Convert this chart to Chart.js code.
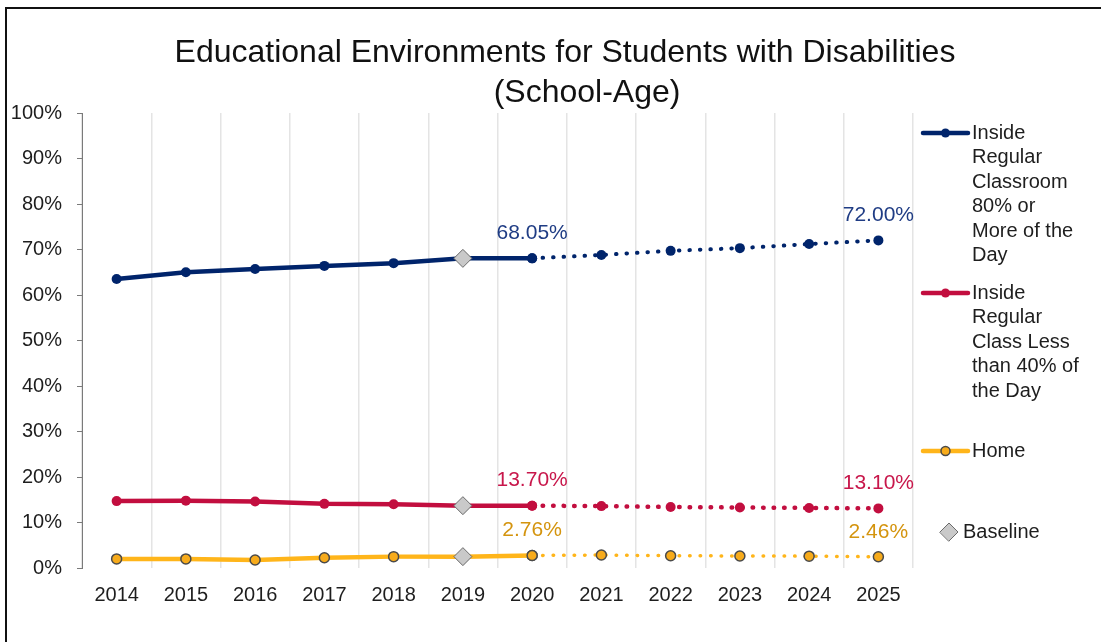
<!DOCTYPE html>
<html>
<head>
<meta charset="utf-8">
<title>Educational Environments for Students with Disabilities</title>
<script src="https://cdn.jsdelivr.net/npm/chart.js@4.4.1/dist/chart.umd.min.js"></script>
<style>
  html, body { margin: 0; padding: 0; background: #fff; }
  #wrap { position: relative; width: 1101px; height: 642px; }
</style>
</head>
<body>
<div id="wrap"><canvas id="chart"></canvas></div>
<script>
/* DATA */
const years = ['2014','2015','2016','2017','2018','2019','2020','2021','2022','2023','2024','2025'];
const baselineYear = '2019';

// actual 2014-2020, targets 2020-2025 (percent)
const regular80 = [63.5, 65.0, 65.7, 66.4, 67.0, 68.05, 68.05];
const regular80Targets = [68.05, 68.8, 69.7, 70.3, 71.2, 72.0];
const lessThan40 = [14.7, 14.8, 14.6, 14.1, 14.0, 13.7, 13.7];
const lessThan40Targets = [13.7, 13.6, 13.4, 13.3, 13.2, 13.1];
const home = [2.0, 2.0, 1.75, 2.25, 2.5, 2.5, 2.76];
const homeTargets = [2.76, 2.85, 2.7, 2.65, 2.6, 2.46];

const titleLines = ['Educational Environments for Students with Disabilities', '(School-Age)'];
const yMax = 100, yStep = 10;

const FONT = '"Liberation Sans", Arial, sans-serif';
const TEXT = '#1e1e1e';
Chart.defaults.font.family = FONT;

const pad = (arr, start) =>
  years.map((_, i) => (i >= start && i < start + arr.length) ? arr[i - start] : null);
const targetStart = years.indexOf('2020');
const baseIdx = years.indexOf(baselineYear);

const series = [
  { name: 'Inside Regular Classroom 80% or More of the Day', actual: regular80, targets: regular80Targets,
    color: '#00246b', labelColor: '#1f3c84', ptFill: '#00246b', ptBorder: '#00246b', ptBorderW: 0,
    radius: 5, dotW: 4, legendY: 133 },
  { name: 'Inside Regular Class Less than 40% of the Day', actual: lessThan40, targets: lessThan40Targets,
    color: '#c20e3f', labelColor: '#c8174b', ptFill: '#c20e3f', ptBorder: '#c20e3f', ptBorderW: 0,
    radius: 5, dotW: 4.5, legendY: 293 },
  { name: 'Home', actual: home, targets: homeTargets,
    color: '#ffb51a', labelColor: '#d4940e', ptFill: '#f7ab1b', ptBorder: '#4a4a4a', ptBorderW: 1.5,
    radius: 5, dotW: 3.5, legendY: 451 }
];

const datasets = [];
series.forEach(s => {
  const pt = {
    pointRadius: s.radius, pointBackgroundColor: s.ptFill,
    pointBorderColor: s.ptBorder, pointBorderWidth: s.ptBorderW
  };
  datasets.push(Object.assign({
    label: s.name, data: pad(s.actual, 0), borderColor: s.color,
    borderWidth: 4.5, tension: 0, order: 1
  }, pt));
  datasets.push(Object.assign({
    label: s.name + ' (target)', data: pad(s.targets, targetStart), borderColor: s.color,
    borderWidth: s.dotW, borderDash: [0.5, 10], borderCapStyle: 'round', tension: 0, order: 1,
    endLabelColor: s.labelColor
  }, pt));
});
datasets.push({
  label: 'Baseline',
  data: series.map(s => ({ x: baselineYear, y: s.actual[baseIdx] })),
  showLine: false, pointStyle: 'rectRot', pointRadius: 9,
  pointBackgroundColor: '#c9c9c9', pointBorderColor: '#6b6b6b', pointBorderWidth: 1, order: 0
});

/* PLUGINS */
const frame = {
  id: 'frame',
  beforeDraw(chart) {
    const ctx = chart.ctx;
    ctx.save();
    ctx.fillStyle = '#fff';
    ctx.fillRect(0, 0, chart.width, chart.height);
    ctx.restore();
  },
  afterDraw(chart) {
    const ctx = chart.ctx;
    ctx.save();
    ctx.strokeStyle = '#111';
    ctx.lineWidth = 2;
    ctx.beginPath();
    ctx.moveTo(6, chart.height);
    ctx.lineTo(6, 8);
    ctx.lineTo(chart.width, 8);
    ctx.stroke();
    ctx.restore();
  }
};

// two-line heading, each line centred on its own
const heading = {
  id: 'heading',
  afterDraw(chart) {
    const ctx = chart.ctx;
    ctx.save();
    ctx.font = '32px ' + FONT;
    ctx.fillStyle = '#111';
    ctx.textAlign = 'center';
    ctx.textBaseline = 'middle';
    ctx.fillText(titleLines[0], 565, 53);
    ctx.fillText(titleLines[1], 587, 93);
    ctx.restore();
  }
};

// value labels over the first and last target points
const endLabels = {
  id: 'endLabels',
  afterDatasetsDraw(chart) {
    const ctx = chart.ctx;
    ctx.save();
    ctx.font = '21px ' + FONT;
    ctx.textAlign = 'center';
    ctx.textBaseline = 'middle';
    chart.data.datasets.forEach((ds, i) => {
      if (!ds.endLabelColor) return;
      const meta = chart.getDatasetMeta(i);
      const idx = ds.data.map((v, j) => v == null ? -1 : j).filter(j => j >= 0);
      [idx[0], idx[idx.length - 1]].forEach(j => {
        const p = meta.data[j];
        ctx.fillStyle = ds.endLabelColor;
        ctx.fillText(ds.data[j].toFixed(2) + '%', p.x, p.y - 25);
      });
    });
    ctx.restore();
  }
};

function wrap(ctx, text, maxW) {
  const words = text.split(' ');
  const lines = [];
  let cur = '';
  words.forEach(w => {
    const t = cur ? cur + ' ' + w : w;
    if (cur && ctx.measureText(t).width > maxW) { lines.push(cur); cur = w; }
    else cur = t;
  });
  if (cur) lines.push(cur);
  return lines;
}

const sideLegend = {
  id: 'sideLegend',
  afterDraw(chart) {
    const ctx = chart.ctx;
    const x0 = chart.chartArea.right + 10;
    const textX = x0 + 49;
    ctx.save();
    ctx.font = '20px ' + FONT;
    ctx.textBaseline = 'middle';
    ctx.fillStyle = TEXT;
    series.forEach(s => {
      const y = s.legendY;
      ctx.strokeStyle = s.color;
      ctx.lineWidth = 4.5;
      ctx.lineCap = 'round';
      ctx.beginPath();
      ctx.moveTo(x0, y);
      ctx.lineTo(x0 + 45, y);
      ctx.stroke();
      ctx.beginPath();
      ctx.arc(x0 + 22.5, y, s.radius - 0.5, 0, Math.PI * 2);
      ctx.fillStyle = s.ptFill;
      ctx.fill();
      if (s.ptBorderW) { ctx.lineWidth = s.ptBorderW; ctx.strokeStyle = s.ptBorder; ctx.stroke(); }
      ctx.fillStyle = TEXT;
      wrap(ctx, s.name, 112).forEach((line, k) => ctx.fillText(line, textX, y + k * 24.5));
    });
    // baseline marker
    const by = 532, bx = x0 + 26, r = 9;
    ctx.beginPath();
    ctx.moveTo(bx - r, by); ctx.lineTo(bx, by - r); ctx.lineTo(bx + r, by); ctx.lineTo(bx, by + r);
    ctx.closePath();
    ctx.fillStyle = '#c9c9c9'; ctx.fill();
    ctx.lineWidth = 1; ctx.strokeStyle = '#6b6b6b'; ctx.stroke();
    ctx.fillStyle = TEXT;
    ctx.fillText('Baseline', x0 + 40, by);
    ctx.restore();
  }
};

/* CHART */
new Chart(document.getElementById('chart'), {
  type: 'line',
  data: { labels: years, datasets },
  options: {
    responsive: true,
    maintainAspectRatio: false,
    animation: false,
    layout: { padding: { left: 8, right: 0, top: 113, bottom: 0 } },
    plugins: {
      legend: { display: false },
      tooltip: { enabled: false },
      title: { display: false }
    },
    scales: {
      x: {
        type: 'category',
        offset: true,
        grid: { offset: true, drawTicks: false, color: '#e4e4e4', lineWidth: 1.5 },
        border: { display: false },
        ticks: { padding: 15, color: TEXT, font: { size: 20 }, maxRotation: 0, autoSkip: false },
        afterFit(s) { s.height = 74; }
      },
      y: {
        min: 0, max: yMax,
        ticks: { stepSize: yStep, callback: v => v + '%', padding: 15, color: TEXT, font: { size: 20 } },
        grid: { drawOnChartArea: false, drawTicks: true, tickLength: 5, color: '#7a7a7a' },
        border: { display: true, color: '#7a7a7a', width: 1 },
        afterFit(s) { s.width = 74; }
      },
      side: {
        type: 'linear', position: 'right',
        grid: { display: false }, border: { display: false }, ticks: { display: false },
        afterFit(s) { s.width = 188; }
      }
    }
  },
  plugins: [frame, heading, endLabels, sideLegend]
});
</script>
</body>
</html>
